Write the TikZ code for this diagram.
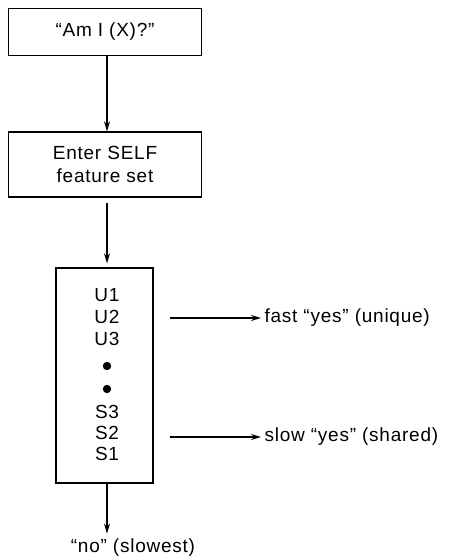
\documentclass[tikz,border=0pt]{standalone}
\usepackage{fontspec}
\setmainfont[LetterSpace=4]{Liberation Sans}
\usetikzlibrary{arrows.meta,calc,positioning}

\begin{document}
\begin{tikzpicture}[>={Stealth[length=10pt,width=6pt]}, x=1pt, y=-1pt,
  every node/.style={font=\fontsize{19}{22.5}\selectfont},
  stagebox/.style={draw, line width=1.3pt, inner sep=0pt},
  flow/.style={->, line width=1.3pt}]
  \useasboundingbox (0,0) rectangle (448,560);
  \node[stagebox, minimum width=193, minimum height=47] (query) at (105,32) {``Am I (X)?''};
  \node[stagebox, minimum width=193, minimum height=65, align=center] (enter) at (105,164.5)
    {Enter SELF\\feature set};
  \node[stagebox, minimum width=97, minimum height=215] (list) at (104.5,375.5) {};
  \foreach \i/\name/\y in {1/U1/295,2/U2/317,3/U3/339,4/S3/412,5/S2/433,6/S1/454} {
    \node (item\i) at (107,\y) {\name};
  }
  \fill (107,366) circle (4.2) (107,389) circle (4.2);
  \node[anchor=west] (fast) at (261,318) {fast ``yes'' (unique)};
  \node[anchor=west] (slow) at (261,437) {slow ``yes'' (shared)};
  \node (no) at (133,548) {``no'' (slowest)};
  \draw[flow] (query.south -| item1) -- (item1 |- enter.north);
  \draw[flow, shorten <=5pt, shorten >=4pt] (enter.south -| item1) -- (item1 |- list.north);
  \draw[flow, shorten <=16pt] (list.east |- fast) -- (fast);
  \draw[flow, shorten <=16pt] (list.east |- slow) -- (slow);
  \draw[flow, shorten >=2pt] (list.south -| item1) -- (item1 |- no.north);
\end{tikzpicture}
\end{document}
